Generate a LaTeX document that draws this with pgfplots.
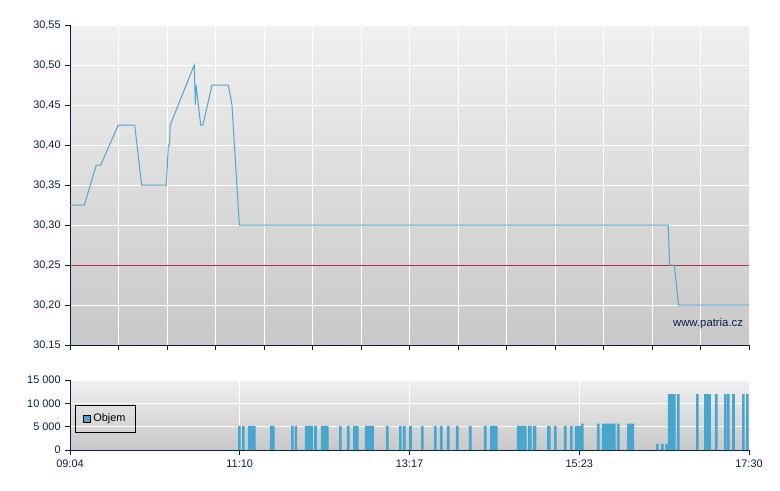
\documentclass[border=0pt]{standalone}
\usepackage{fontspec}
\setmainfont{Liberation Sans}
\usepackage{pgfplots}
\pgfplotsset{compat=1.18}
\definecolor{navy}{RGB}{10,30,75}
\definecolor{lineblue}{RGB}{80,165,205}
\definecolor{barblue}{RGB}{70,166,206}
\definecolor{refred}{RGB}{175,55,55}
\definecolor{bgtop}{RGB}{240,240,240}
\definecolor{bgbot}{RGB}{200,200,200}
\pgfplotsset{
 base/.style={
  scale only axis, width=509.25pt,
  xmin=0, xmax=506,
  axis x line*=bottom, axis y line*=left,
  axis line style={navy, line width=0.75pt, -},
  tick style={navy, line width=0.75pt},
  major tick length=3.5pt,
  tick align=outside,
  grid=major,
  grid style={white, line width=0.75pt},
  axis background/.style={top color=bgtop, bottom color=bgbot},
  tick label style={font=\fontsize{8.2}{9}\selectfont, text=navy},
  scaled y ticks=false,
 }
}
\begin{document}
\begin{tikzpicture}
\path[use as bounding box] (0,0) rectangle (585pt,367.5pt);
% price axis
\begin{axis}[base, at={(52.5pt,108.75pt)}, anchor=south west, height=240pt,
  ymin=30.15, ymax=30.55,
  ytick={30.15,30.2,30.25,30.3,30.35,30.4,30.45,30.5,30.55},
  yticklabels={{30.15},{30,20},{30,25},{30,30},{30,35},{30,40},{30,45},{30,50},{30,55}},
  xtick={0,36.143,72.286,108.429,144.571,180.714,216.857,253,289.143,325.286,361.429,397.571,433.714,469.857,506},
  xticklabels={}]
\addplot[refred, line width=0.6pt] coordinates {(0,30.25) (506,30.25)};
\addplot[lineblue, line width=0.75pt] coordinates {
(0,30.325) (10.7,30.325) (19.6,30.375) (22.9,30.375) (36.0,30.425) (48.2,30.425)
(53.4,30.35) (71.8,30.35) (73.3,30.40) (74.2,30.40) (74.7,30.425) (92.6,30.50)
(93.4,30.45) (93.9,30.475) (97.4,30.425) (99.1,30.425) (105.8,30.475) (118.0,30.475)
(120.7,30.45) (126.2,30.30) (445.8,30.30) (446.8,30.25) (450.3,30.25) (453.5,30.20)
(506,30.20)};
\node[anchor=east, inner sep=0pt, text=navy, font=\fontsize{8.5}{10}\selectfont] at (rel axis cs:0.9916,0.0656) {www.patria.cz};
\end{axis}
% volume axis
\begin{axis}[base, at={(52.5pt,30pt)}, anchor=south west, height=52.5pt,
  ymin=0, ymax=15000,
  ytick={0,5000,10000,15000},
  yticklabels={0,5 000,10 000,15 000},
  xtick={0,126.5,253,379.5,506},
  xticklabels={09:04,11:10,13:17,15:23,17:30},
  ybar, bar width=2,
  legend style={at={(rel axis cs:0.0078,0.443)}, anchor=west, draw=black, line width=0.6pt, fill=none,
    font=\fontsize{8.2}{9}\selectfont, inner xsep=5.5pt, inner ysep=4.5pt,
    /tikz/every even column/.append style={column sep=0pt}},
  legend image code/.code={\draw[fill=barblue,draw=black,line width=0.5pt] (0pt,-2.6pt) rectangle (5.25pt,2.6pt);}]
\addplot[fill=barblue, draw=none] coordinates {
(126.2,5100) (129.2,5100) (133.6,5100) (135.5,5100) (137.4,5100) (150.0,5100) (151.5,5100)
(165.7,5100) (168.3,5100) (176.1,5100) (178.0,5100) (179.9,5100) (183.0,5100) (188.0,5100)
(189.9,5100) (191.8,5100) (201.5,5100) (207.4,5100) (211.9,5100) (214.1,5100) (220.8,5100)
(222.5,5100) (224.2,5100) (225.5,5100) (236.5,5100) (246.2,5100) (249.1,5100) (253.7,5100)
(262.6,5100) (272.3,5100) (276.7,5100) (281.9,5100) (288.6,5100) (298.3,5100) (309.5,5100)
(314.0,5100) (315.9,5100) (317.7,5100) (334.1,5100) (335.9,5100) (337.5,5100) (339.3,5100)
(342.3,5100) (343.0,5100) (346.0,5100) (346.5,5100) (356.5,5100) (357.2,5100) (361.7,5100)
(369.1,5100) (373.6,5100) (377.3,5100) (379.3,5100) (380.3,5100)
(381.8,5650) (393.7,5650) (397.4,5650) (399.4,5650) (401.4,5650) (403.4,5650) (405.6,5650)
(408.6,5650) (416.1,5650) (418.1,5650) (419.3,5650)
(437.7,1300) (441.4,1300) (444.6,1300)
(446.6,12000) (448.5,12000) (450.3,12000) (453.3,12000) (467.5,12000) (473.5,12000)
(475.5,12000) (476.5,12000) (481.6,12000) (488.4,12000) (490.6,12000) (494.5,12000)
(501.8,12000) (504.8,12000)};
\addlegendentry{Objem}
\end{axis}
\end{tikzpicture}
\end{document}
